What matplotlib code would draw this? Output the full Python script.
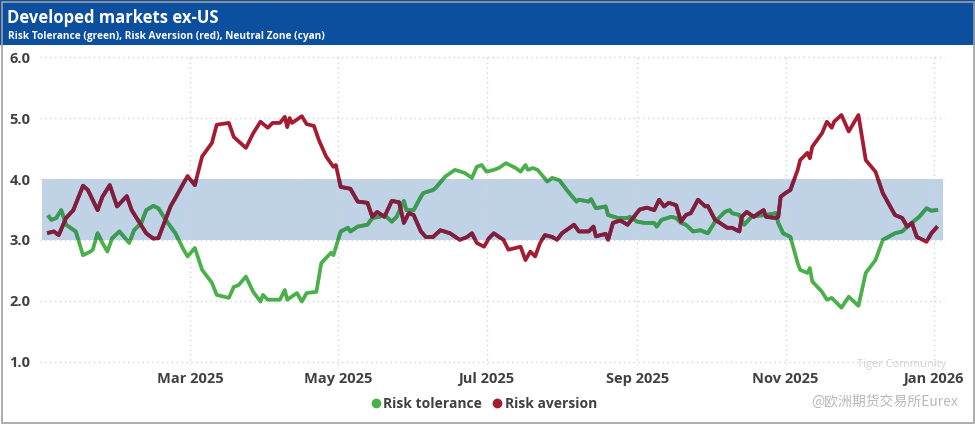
import matplotlib
matplotlib.use("Agg")
import matplotlib.pyplot as plt
from matplotlib.patches import Rectangle
from matplotlib.lines import Line2D
import pandas as pd

# Risk tolerance (green)
tol_dates = ["2025-01-02", "2025-01-03", "2025-01-05", "2025-01-07", "2025-01-08", "2025-01-09",
             "2025-01-13", "2025-01-16", "2025-01-19", "2025-01-20", "2025-01-22", "2025-01-24",
             "2025-01-26", "2025-01-28", "2025-01-31", "2025-02-04", "2025-02-06", "2025-02-09",
             "2025-02-11", "2025-02-14", "2025-02-16", "2025-02-19", "2025-02-23", "2025-02-26",
             "2025-02-28", "2025-03-03", "2025-03-06", "2025-03-10", "2025-03-12", "2025-03-17",
             "2025-03-19", "2025-03-21", "2025-03-24", "2025-03-27", "2025-03-30", "2025-03-31",
             "2025-04-02", "2025-04-07", "2025-04-09", "2025-04-10", "2025-04-14", "2025-04-16",
             "2025-04-18", "2025-04-22", "2025-04-24", "2025-04-28", "2025-04-29", "2025-05-02",
             "2025-05-05", "2025-05-06", "2025-05-09", "2025-05-13", "2025-05-15", "2025-05-18",
             "2025-05-20", "2025-05-23", "2025-05-25", "2025-05-28", "2025-05-29", "2025-06-01",
             "2025-06-04", "2025-06-05", "2025-06-09", "2025-06-10", "2025-06-14", "2025-06-18",
             "2025-06-22", "2025-06-25", "2025-06-27", "2025-06-29", "2025-07-01", "2025-07-04",
             "2025-07-06", "2025-07-09", "2025-07-13", "2025-07-15", "2025-07-17", "2025-07-18",
             "2025-07-20", "2025-07-22", "2025-07-26", "2025-07-28", "2025-07-31", "2025-08-03",
             "2025-08-07", "2025-08-08", "2025-08-12", "2025-08-13", "2025-08-15", "2025-08-19",
             "2025-08-20", "2025-08-24", "2025-08-28", "2025-08-29", "2025-09-01", "2025-09-04",
             "2025-09-08", "2025-09-09", "2025-09-11", "2025-09-15", "2025-09-17", "2025-09-19",
             "2025-09-21", "2025-09-24", "2025-09-27", "2025-09-30", "2025-10-03", "2025-10-07",
             "2025-10-09", "2025-10-10", "2025-10-13", "2025-10-15", "2025-10-18", "2025-10-21",
             "2025-10-24", "2025-10-28", "2025-10-29", "2025-10-31", "2025-11-03", "2025-11-06",
             "2025-11-07", "2025-11-10", "2025-11-11", "2025-11-12", "2025-11-16", "2025-11-18",
             "2025-11-20", "2025-11-24", "2025-11-27", "2025-12-01", "2025-12-04", "2025-12-08",
             "2025-12-11", "2025-12-16", "2025-12-19", "2025-12-22", "2025-12-26", "2025-12-29",
             "2025-12-31", "2026-01-02"]
tol_vals = [3.38, 3.33, 3.36, 3.49, 3.38, 3.25,
            3.14, 2.75, 2.81, 2.84, 3.11, 2.95,
            2.81, 3.03, 3.14, 2.95, 3.16, 3.28,
            3.49, 3.56, 3.52, 3.33, 3.11, 2.87,
            2.73, 2.87, 2.51, 2.30, 2.10, 2.05,
            2.23, 2.26, 2.40, 2.15, 1.99, 2.10,
            2.02, 2.02, 2.18, 2.02, 2.13, 1.99,
            2.13, 2.15, 2.62, 2.79, 2.75, 3.14,
            3.20, 3.14, 3.22, 3.25, 3.36, 3.38,
            3.41, 3.30, 3.38, 3.64, 3.49, 3.49,
            3.71, 3.77, 3.82, 3.85, 4.04, 4.15,
            4.10, 4.02, 4.20, 4.23, 4.12, 4.15,
            4.18, 4.26, 4.18, 4.12, 4.23, 4.15,
            4.18, 4.15, 3.96, 4.02, 3.98, 3.82,
            3.63, 3.66, 3.63, 3.67, 3.52, 3.55,
            3.41, 3.36, 3.36, 3.38, 3.30, 3.28,
            3.28, 3.22, 3.33, 3.38, 3.36, 3.28,
            3.25, 3.14, 3.16, 3.11, 3.30, 3.46,
            3.49, 3.44, 3.41, 3.25, 3.38, 3.40,
            3.41, 3.44, 3.28, 3.11, 3.05, 2.62,
            2.51, 2.46, 2.54, 2.32, 2.15, 2.02,
            2.05, 1.89, 2.07, 1.92, 2.46, 2.67,
            3.00, 3.11, 3.14, 3.25, 3.38, 3.52,
            3.48, 3.49]

# Risk aversion (red)
av_dates = ["2025-01-02", "2025-01-04", "2025-01-06", "2025-01-09", "2025-01-12", "2025-01-16",
            "2025-01-18", "2025-01-22", "2025-01-24", "2025-01-27", "2025-01-30", "2025-02-03",
            "2025-02-05", "2025-02-11", "2025-02-14", "2025-02-16", "2025-02-21", "2025-02-23",
            "2025-02-28", "2025-03-03", "2025-03-06", "2025-03-10", "2025-03-12", "2025-03-17",
            "2025-03-19", "2025-03-24", "2025-03-27", "2025-03-30", "2025-04-02", "2025-04-04",
            "2025-04-07", "2025-04-09", "2025-04-10", "2025-04-11", "2025-04-12", "2025-04-16",
            "2025-04-18", "2025-04-21", "2025-04-23", "2025-04-26", "2025-04-29", "2025-04-30",
            "2025-05-02", "2025-05-06", "2025-05-09", "2025-05-13", "2025-05-15", "2025-05-17",
            "2025-05-20", "2025-05-23", "2025-05-26", "2025-05-28", "2025-05-30", "2025-06-01",
            "2025-06-04", "2025-06-06", "2025-06-09", "2025-06-12", "2025-06-16", "2025-06-20",
            "2025-06-23", "2025-06-25", "2025-06-27", "2025-06-30", "2025-07-02", "2025-07-04",
            "2025-07-08", "2025-07-10", "2025-07-15", "2025-07-17", "2025-07-19", "2025-07-21",
            "2025-07-23", "2025-07-25", "2025-07-28", "2025-07-30", "2025-08-01", "2025-08-06",
            "2025-08-08", "2025-08-12", "2025-08-14", "2025-08-15", "2025-08-19", "2025-08-20",
            "2025-08-22", "2025-08-25", "2025-08-28", "2025-09-02", "2025-09-05", "2025-09-08",
            "2025-09-10", "2025-09-12", "2025-09-14", "2025-09-17", "2025-09-19", "2025-09-21",
            "2025-09-23", "2025-09-26", "2025-09-29", "2025-09-30", "2025-10-03", "2025-10-05",
            "2025-10-08", "2025-10-10", "2025-10-13", "2025-10-14", "2025-10-16", "2025-10-19",
            "2025-10-21", "2025-10-23", "2025-10-24", "2025-10-28", "2025-10-29", "2025-10-30",
            "2025-11-01", "2025-11-03", "2025-11-06", "2025-11-07", "2025-11-10", "2025-11-11",
            "2025-11-12", "2025-11-16", "2025-11-18", "2025-11-20", "2025-11-21", "2025-11-24",
            "2025-11-27", "2025-12-01", "2025-12-04", "2025-12-08", "2025-12-11", "2025-12-16",
            "2025-12-19", "2025-12-21", "2025-12-23", "2025-12-25", "2025-12-29", "2025-12-31",
            "2026-01-02"]
av_vals = [3.12, 3.14, 3.08, 3.36, 3.49, 3.89,
           3.82, 3.49, 3.71, 3.90, 3.55, 3.72,
           3.49, 3.11, 3.02, 3.03, 3.55, 3.69,
           4.05, 3.90, 4.37, 4.59, 4.89, 4.92,
           4.69, 4.51, 4.75, 4.94, 4.84, 4.92,
           4.92, 5.02, 4.85, 5.00, 4.92, 5.03,
           4.90, 4.87, 4.64, 4.37, 4.20, 4.23,
           3.87, 3.84, 3.63, 3.61, 3.38, 3.46,
           3.38, 3.64, 3.62, 3.28, 3.44, 3.41,
           3.14, 3.05, 3.05, 3.16, 3.11, 3.00,
           3.05, 3.11, 2.95, 2.89, 3.03, 3.11,
           3.00, 2.84, 2.89, 2.67, 2.81, 2.73,
           2.95, 3.08, 3.05, 3.00, 3.11, 3.25,
           3.14, 3.14, 3.22, 3.06, 3.10, 3.00,
           3.28, 3.32, 3.25, 3.50, 3.53, 3.49,
           3.66, 3.55, 3.61, 3.57, 3.30, 3.41,
           3.44, 3.66, 3.55, 3.56, 3.33, 3.28,
           3.20, 3.20, 3.14, 3.38, 3.46, 3.38,
           3.44, 3.49, 3.38, 3.36, 3.38, 3.71,
           3.77, 3.82, 4.15, 4.31, 4.43, 4.34,
           4.53, 4.75, 4.94, 4.84, 4.94, 5.05,
           4.78, 5.05, 4.31, 4.12, 3.77, 3.41,
           3.36, 3.22, 3.28, 3.05, 2.97, 3.11,
           3.20]

band_lo, band_hi = 3.0, 4.0
x_tick_dates = ["2025-03-01", "2025-05-01", "2025-07-01", "2025-09-01", "2025-11-01", "2026-01-01"]
x_tick_labels = ["Mar 2025", "May 2025", "Jul 2025", "Sep 2025", "Nov 2025", "Jan 2026"]
y_ticks = [1.0, 2.0, 3.0, 4.0, 5.0, 6.0]

plt.rcParams['font.family'] = ['Open Sans', 'DejaVu Sans']

W, H = 975, 424
fig = plt.figure(figsize=(W / 100, H / 100), dpi=100)

# header banner and outer frame
fig.patches.append(Rectangle((0, 1 - 45 / H), 1, 45 / H, transform=fig.transFigure,
                             facecolor='#0B4F9E', edgecolor='none', zorder=0))
fig.patches.append(Rectangle((1.5 / W, 1.5 / H), 1 - 3 / W, 1 - 3 / H, transform=fig.transFigure,
                             fill=False, edgecolor='#a0a0a0', lw=1.2, zorder=0))
fig.text(7 / W, 1 - 23 / H, "Developed markets ex-US", color='white', fontsize=12,
         fontweight='bold', va='baseline')
fig.text(8 / W, 1 - 38.5 / H, "Risk Tolerance (green), Risk Aversion (red), Neutral Zone (cyan)",
         color='white', fontsize=7.3, fontweight='bold', va='baseline')

# plot area
day0 = pd.Timestamp("2025-01-01")
ax = fig.add_axes([40 / W, 1 - 365 / H, 905 / W, 311 / H])
ax.set_xlim(day0 - pd.Timedelta(days=2.7), day0 + pd.Timedelta(days=369.6))
ax.set_ylim(0.95, 6.05)

ax.axhspan(band_lo, band_hi, xmin=0.002, xmax=0.998, facecolor='#BFD2E6', edgecolor='none', zorder=1)

td = pd.to_datetime(tol_dates)
adt = pd.to_datetime(av_dates)

ax.plot(td, tol_vals, color='#4AB04A', lw=2.7, zorder=3, solid_joinstyle='round')
ax.plot(adt, av_vals, color='#A61B2F', lw=2.7, zorder=4, solid_joinstyle='round')

# darker tint where the lines pass through the neutral band
clip = Rectangle((0, band_lo), 1, band_hi - band_lo, transform=ax.get_yaxis_transform())
l1, = ax.plot(td, tol_vals, color='#3C9A55', lw=2.7, zorder=3.5, solid_joinstyle='round')
l2, = ax.plot(adt, av_vals, color='#7E1F3F', lw=2.7, zorder=4.5, solid_joinstyle='round')
l1.set_clip_path(clip)
l2.set_clip_path(clip)

ax.set_xticks(pd.to_datetime(x_tick_dates))
ax.set_xticklabels(x_tick_labels)
ax.set_yticks(y_ticks)
ax.set_yticklabels(["%.1f" % v for v in y_ticks])
ax.grid(True, linestyle=(0, (1, 2.5)), color='#d4d4d4', lw=1, zorder=2)
ax.tick_params(length=0, labelsize=10.5, colors='#404040', pad=5)
ax.tick_params(axis='y', pad=7)
for lab in ax.get_xticklabels() + ax.get_yticklabels():
    lab.set_fontweight('bold')
for s in ax.spines.values():
    s.set_visible(False)

handles = [Line2D([], [], ls='none', marker='o', ms=6, color='#4AB04A'),
           Line2D([], [], ls='none', marker='o', ms=6, color='#A61B2F')]
fig.legend(handles, ["Risk tolerance", "Risk aversion"], loc='center', ncol=2,
           bbox_to_anchor=(483 / W, 1 - 404 / H), frameon=False, handletextpad=0.05,
           columnspacing=0.6, handlelength=1.0,
           prop={'weight': 'bold', 'size': 10, 'family': ['Open Sans', 'DejaVu Sans']},
           labelcolor='#404040')

# watermark
fig.text(857 / W, 1 - 365 / H, "Tiger Community", color='#c8c8c8', fontsize=8, va='center', alpha=0.8)
fig.text(958 / W, 1 - 402 / H, "@欧洲期货交易所Eurex", color='#b8b8b8', fontsize=10, ha='right',
         va='center', family=['Noto Sans CJK SC', 'DejaVu Sans'])

fig.savefig("out.png", dpi=100)
